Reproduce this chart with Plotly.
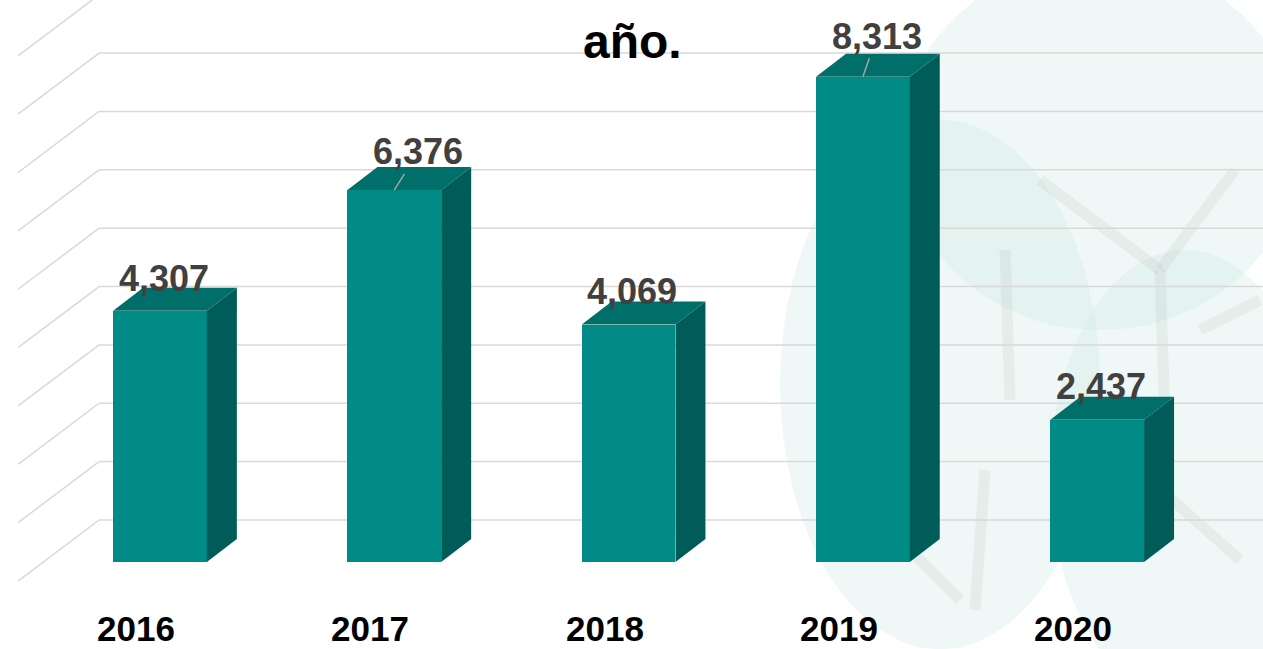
import plotly.graph_objects as go

# ---------------- data ----------------
years = ["2016", "2017", "2018", "2019", "2020"]
values = [4307, 6376, 4069, 8313, 2437]
value_labels = ["4,307", "6,376", "4,069", "8,313", "2,437"]
title_text = "año."
grid_values = list(range(0, 10000, 1000))

# ---------------- style / geometry ----------------
W, H = 1263, 649
FRONT = "#008B87"
TOP = "#006E69"
SIDE = "#005C58"
GRID = "#D9D9D9"
LABEL = "#404040"

BAR_W = 0.40          # bar width in category units
DEPTH_DX = 0.128      # bar depth offset (x, category units)
DEPTH_DY = 394        # bar depth offset (y, value units)
WALL_DY = 720         # back wall offset from bar front plane (value units)
WALL_X_BACK = -0.260  # left edge of back wall
WALL_X_FRONT = -0.606 # front edge of left wall
FLOOR_DY = -326       # front edge of left wall (value units)
X_RANGE = [-0.6829, 4.7076]
Y_RANGE = [-1490.7, 9630.0]

# label offsets (pixels) relative to bar top-front centre
lab_dx = [3.5, 24, 3, 14, 4]
lab_dy = [-32.5, -38, -33.5, -40.5, -33]
leader = [False, True, False, True, False]

fig = go.Figure()

# side faces
for i, v in enumerate(values):
    xr = i + BAR_W / 2
    fig.add_trace(go.Scatter(
        x=[xr, xr + DEPTH_DX, xr + DEPTH_DX, xr, xr],
        y=[0, DEPTH_DY, v + DEPTH_DY, v, 0],
        fill="toself", fillcolor=SIDE, mode="lines",
        line=dict(width=0, color=SIDE), hoverinfo="skip", showlegend=False))
# top faces
for i, v in enumerate(values):
    xl = i - BAR_W / 2
    xr = i + BAR_W / 2
    fig.add_trace(go.Scatter(
        x=[xl, xr, xr + DEPTH_DX, xl + DEPTH_DX, xl],
        y=[v, v, v + DEPTH_DY, v + DEPTH_DY, v],
        fill="toself", fillcolor=TOP, mode="lines",
        line=dict(width=0, color=TOP), hoverinfo="skip", showlegend=False))
# front faces
fig.add_trace(go.Bar(
    x=list(range(len(years))), y=values, width=BAR_W,
    marker=dict(color=FRONT, line=dict(width=0)),
    hoverinfo="skip", showlegend=False))

shapes = []
# faint watermark background
mint = [
    (780, 120, 1100, 649), (900, -40, 1300, 330), (1050, 250, 1320, 700),
]
for x0, y0, x1, y1 in mint:
    shapes.append(dict(type="circle", xref="paper", yref="paper",
                       x0=x0 / W, x1=x1 / W, y0=1 - y1 / H, y1=1 - y0 / H,
                       fillcolor="rgba(205,233,229,0.33)", line=dict(width=0), layer="below"))
branches = [
    (1040, 180, 1160, 270), (1160, 270, 1235, 170), (1160, 270, 1165, 420),
    (1005, 250, 1010, 400), (880, 200, 905, 255), (985, 470, 975, 610),
    (1150, 480, 1240, 560), (1200, 330, 1260, 300), (900, 540, 960, 600),
]
for x0, y0, x1, y1 in branches:
    shapes.append(dict(type="line", xref="paper", yref="paper",
                       x0=x0 / W, x1=x1 / W, y0=1 - y0 / H, y1=1 - y1 / H,
                       line=dict(color="rgba(175,175,175,0.15)", width=11), layer="below"))
# back wall gridlines and left wall diagonals
for g in grid_values:
    shapes.append(dict(type="line", xref="x", yref="y",
                       x0=WALL_X_BACK, x1=X_RANGE[1], y0=g + WALL_DY, y1=g + WALL_DY,
                       line=dict(color=GRID, width=1.5), layer="below"))
    shapes.append(dict(type="line", xref="x", yref="y",
                       x0=WALL_X_BACK, x1=WALL_X_FRONT, y0=g + WALL_DY, y1=g + FLOOR_DY,
                       line=dict(color=GRID, width=1.5), layer="below"))

FONT = "Liberation Sans, Arial, sans-serif"
annotations = []
for i, v in enumerate(values):
    txt = "<b>%s</b>" % value_labels[i]
    if leader[i]:
        annotations.append(dict(
            x=i, y=v, xref="x", yref="y", text=txt,
            showarrow=True, arrowhead=0, arrowwidth=1.5, arrowcolor="#A6A6A6",
            ax=lab_dx[i], ay=lab_dy[i], standoff=0,
            font=dict(family=FONT, size=36, color=LABEL)))
    else:
        annotations.append(dict(
            x=i, y=v, xref="x", yref="y", text=txt,
            showarrow=False, xshift=lab_dx[i], yshift=-lab_dy[i],
            font=dict(family=FONT, size=36, color=LABEL)))
for i, yr in enumerate(years):
    annotations.append(dict(
        x=i, y=0, xref="x", yref="paper", text="<b>%s</b>" % yr,
        showarrow=False, xshift=-24, yanchor="bottom", borderpad=0,
        font=dict(family=FONT, size=35, color="#000000")))
annotations.append(dict(
    x=632 / W, y=1 - 42 / H, xref="paper", yref="paper", text="<b>%s</b>" % title_text,
    showarrow=False, yanchor="middle",
    font=dict(family=FONT, size=48, color="#000000")))

fig.update_layout(
    width=W, height=H, margin=dict(l=0, r=0, t=0, b=0),
    paper_bgcolor="white", plot_bgcolor="rgba(0,0,0,0)",
    xaxis=dict(range=X_RANGE, visible=False, fixedrange=True),
    yaxis=dict(range=Y_RANGE, visible=False, fixedrange=True),
    shapes=shapes, annotations=annotations, bargap=0, showlegend=False,
)

fig.write_html("out.html", include_plotlyjs=True, full_html=True,
               config={"displayModeBar": False},
               post_script="document.body.style.margin='0';document.body.style.overflow='hidden';")
